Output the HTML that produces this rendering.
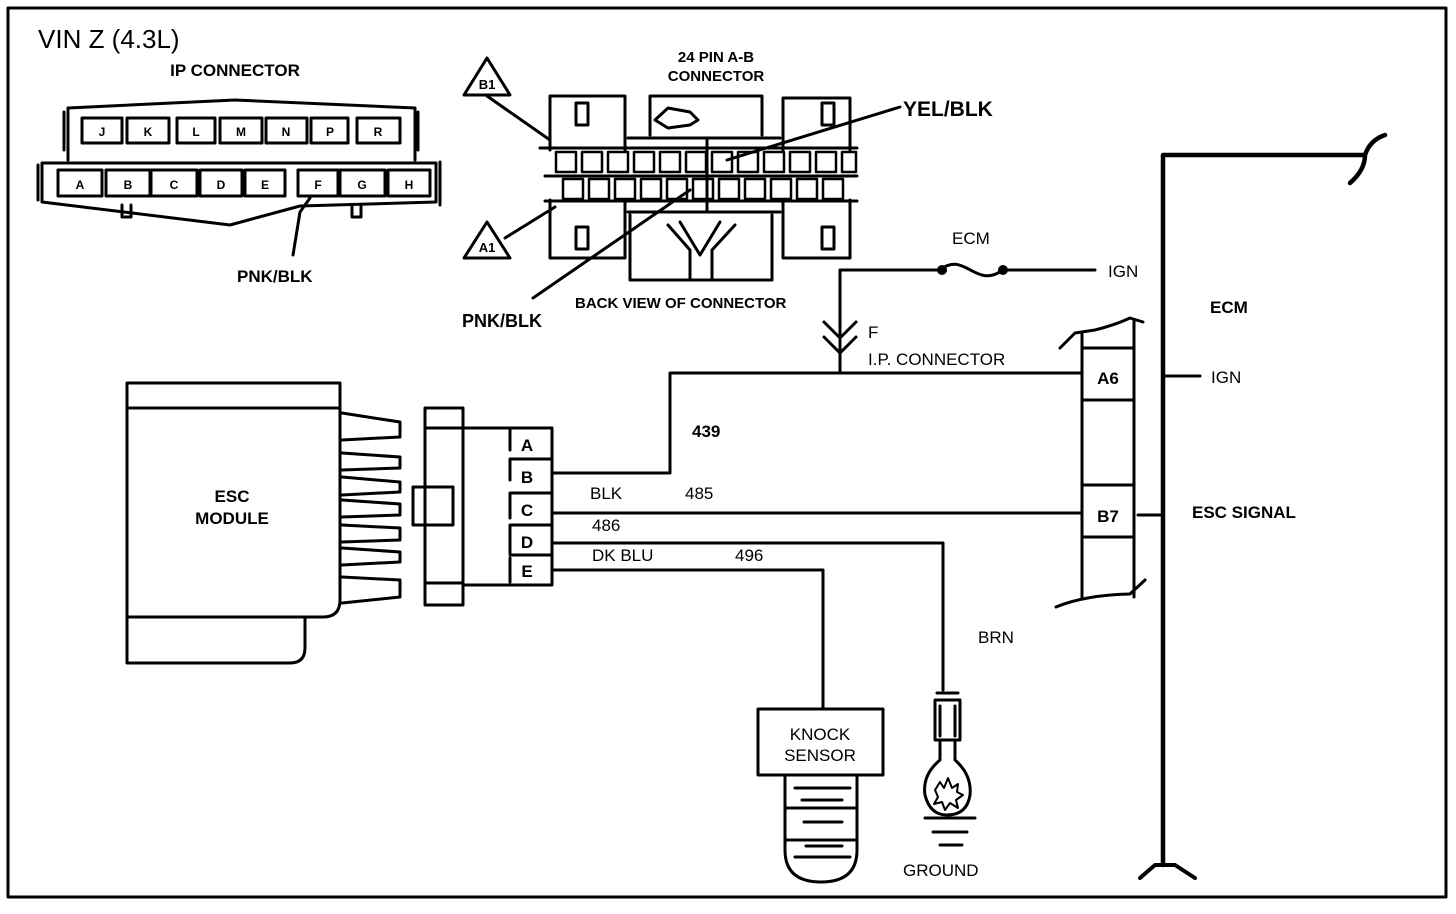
<!DOCTYPE html>
<html><head><meta charset="utf-8"><style>
html,body{margin:0;padding:0;background:#fff;width:1456px;height:914px;overflow:hidden}
svg{display:block}
text{font-family:"Liberation Sans",sans-serif;fill:#000}
.b{font-weight:bold}
</style></head><body>
<svg width="1456" height="914" viewBox="0 0 1456 914" xmlns="http://www.w3.org/2000/svg">
<g fill="none" stroke="#000" stroke-width="3" stroke-linecap="round" stroke-linejoin="round">
<path d="M8 8 H1446 V897 H8 Z"/>

<path d="M68 160 V108 L235 100 L415 108 V160"/>
<path d="M64 112 V150 M418 112 V150"/>
<rect x="82" y="118" width="40" height="25"/><rect x="127" y="118" width="42" height="25"/>
<rect x="177" y="118" width="38" height="25"/><rect x="220" y="118" width="42" height="25"/>
<rect x="266" y="118" width="41" height="25"/><rect x="311" y="118" width="37" height="25"/>
<rect x="357" y="118" width="43" height="25"/>
<path d="M38 165 L38 200 M440 162 V205 M42 163 H436 V202 L300 206 L230 225 L42 202 Z"/>
<rect x="58" y="170" width="44" height="26"/><rect x="106" y="170" width="44" height="26"/>
<rect x="151" y="170" width="46" height="26"/><rect x="200" y="170" width="42" height="26"/>
<rect x="245" y="170" width="40" height="26"/><rect x="298" y="170" width="40" height="26"/>
<rect x="340" y="170" width="45" height="26"/><rect x="388" y="170" width="42" height="26"/>
<path d="M122 205 V217 H131 V205 M352 205 V217 H361 V205"/>
<path d="M310 198 L300 212 L293 255"/>

<path d="M550 150 V96 H625 V150 M550 200 V258 H625 V200"/>
<path d="M650 135 V96 H762 V135"/>
<path d="M783 150 V98 H850 V150 M783 200 V258 H850 V200"/>
<rect x="576" y="103" width="12" height="22"/><rect x="822" y="103" width="12" height="22"/>
<rect x="576" y="227" width="12" height="22"/><rect x="822" y="227" width="12" height="22"/>
<path d="M655 120 L668 108 L690 112 L698 120 L690 125 L668 128 Z"/>
<path d="M540 148 H857 M545 176 H857 M545 201 H857 M628 138 H780 M628 212 H780 M707 138 V212"/>
<g stroke-width="2.5">
<rect x="556" y="152" width="20" height="20"/><rect x="582" y="152" width="20" height="20"/><rect x="608" y="152" width="20" height="20"/><rect x="634" y="152" width="20" height="20"/><rect x="660" y="152" width="20" height="20"/><rect x="686" y="152" width="20" height="20"/><rect x="712" y="152" width="20" height="20"/><rect x="738" y="152" width="20" height="20"/><rect x="764" y="152" width="20" height="20"/><rect x="790" y="152" width="20" height="20"/><rect x="816" y="152" width="20" height="20"/><rect x="842" y="152" width="14" height="20"/>
<rect x="563" y="179" width="20" height="20"/><rect x="589" y="179" width="20" height="20"/><rect x="615" y="179" width="20" height="20"/><rect x="641" y="179" width="20" height="20"/><rect x="667" y="179" width="20" height="20"/><rect x="693" y="179" width="20" height="20"/><rect x="719" y="179" width="20" height="20"/><rect x="745" y="179" width="20" height="20"/><rect x="771" y="179" width="20" height="20"/><rect x="797" y="179" width="20" height="20"/><rect x="823" y="179" width="20" height="20"/>
</g>
<path d="M630 215 V280 H772 V215 M668 225 L690 250 V280 M712 280 V250 L735 225 M680 222 L700 255 L720 222"/>
<path d="M464 95 L487 58 L510 95 Z M464 258 L487 222 L510 258 Z"/>
<path d="M487 96 L550 140 M505 238 L555 207 M900 107 L727 160 M533 298 L690 190"/>

<path d="M840 373 V270 H940 C965 250 975 290 1003 270 H1095"/>
<path d="M824 322 L840 338 L856 322 M824 337 L840 353 L856 337"/>
<path d="M670 373 H1082 M670 373 V473 H553"/>
<path d="M553 513 H1082 M553 543 H943 V690 M553 570 H823 V709"/>

<path d="M1060 348 L1075 333 L1095 330 Q1115 325 1130 318 L1143 322 M1082 333 V598 M1134 320 V597"/>
<path d="M1082 348 H1134 M1082 400 H1134 M1082 485 H1134 M1082 537 H1134"/>
<path d="M1056 607 Q1085 595 1130 594 L1145 580"/>
<path d="M1138 515 H1163 M1163 376 H1200"/>
<path d="M1163 155 V865 M1163 155 H1365 Q1370 140 1385 135 M1365 155 Q1365 170 1350 183" stroke-width="4.5"/>
<path d="M1140 878 L1155 865 H1175 L1195 878" stroke-width="4"/>

<path d="M127 383 H340 V600 Q340 617 323 617 H127 Z M127 408 H340"/>
<path d="M127 617 V663 H290 Q305 663 305 648 V617"/>
<path d="M342 413 L400 422 V437 L342 440 M342 453 L400 457 V468 L342 470 M342 477 L400 482 V492 L342 495 M342 500 L400 504 V515 L342 517 M342 525 L400 528 V540 L342 542 M342 548 L400 552 V562 L342 565 M342 577 L400 580 V597 L342 603"/>
<rect x="425" y="408" width="38" height="197"/>
<path d="M425 428 H463 M425 583 H463"/>
<rect x="413" y="487" width="40" height="38"/>
<path d="M463 428 H552 V585 H463 M510 430 V450 M510 460 V480 M510 493 V518 M510 525 V553 M510 558 V582 M510 459 H552 M510 493 H552 M510 525 H552 M510 555 H552"/>

<rect x="758" y="709" width="125" height="66"/>
<path d="M785 775 V850 Q785 882 821 882 Q857 882 857 850 V775 M785 808 H857 M785 840 H857 M795 788 H850 M802 800 H842 M804 822 H842 M806 846 H842 M795 857 H850"/>

<path d="M935 700 H960 V740 H935 Z M940 706 V736 M955 706 V736 M937 693 H958"/>
<path d="M940 742 V760 Q922 775 925 795 Q930 815 947 815 Q967 815 970 795 Q972 775 955 760 V742"/>
<path d="M935 790 L940 782 L944 788 L948 778 L952 788 L958 784 L957 792 L963 795 L956 800 L958 808 L950 803 L945 810 L942 802 L934 804 L938 797 Z" stroke-width="2"/>
<path d="M925 818 H975 M933 832 H967 M940 845 H962"/>
</g>
<circle cx="942" cy="270" r="5" fill="#000"/>
<circle cx="1003" cy="270" r="5" fill="#000"/>

<text x="38" y="48" font-size="26">VIN Z (4.3L)</text>
<text x="235" y="76" font-size="17" class="b" text-anchor="middle">IP CONNECTOR</text>
<g font-size="12" class="b" text-anchor="middle">
<text x="102" y="136">J</text><text x="148" y="136">K</text><text x="196" y="136">L</text><text x="241" y="136">M</text><text x="286" y="136">N</text><text x="330" y="136">P</text><text x="378" y="136">R</text>
<text x="80" y="189">A</text><text x="128" y="189">B</text><text x="174" y="189">C</text><text x="221" y="189">D</text><text x="265" y="189">E</text><text x="318" y="189">F</text><text x="362" y="189">G</text><text x="409" y="189">H</text>
</g>
<text x="237" y="282" font-size="17" class="b">PNK/BLK</text>
<text x="716" y="62" font-size="15" class="b" text-anchor="middle">24 PIN A-B</text>
<text x="716" y="81" font-size="15" class="b" text-anchor="middle">CONNECTOR</text>
<text x="487" y="89" font-size="13" class="b" text-anchor="middle">B1</text>
<text x="487" y="252" font-size="13" class="b" text-anchor="middle">A1</text>
<text x="903" y="116" font-size="21" class="b">YEL/BLK</text>
<text x="462" y="327" font-size="18" class="b">PNK/BLK</text>
<text x="575" y="308" font-size="15" class="b">BACK VIEW OF CONNECTOR</text>
<g font-size="17">
<text x="952" y="244">ECM</text>
<text x="1108" y="277">IGN</text>
<text x="868" y="338">F</text>
<text x="868" y="365">I.P. CONNECTOR</text>
<text x="1210" y="313" class="b">ECM</text>
<text x="1211" y="383">IGN</text>
<text x="1192" y="518" class="b">ESC SIGNAL</text>
<text x="1108" y="384" text-anchor="middle" class="b">A6</text>
<text x="1108" y="522" text-anchor="middle" class="b">B7</text>
<text x="692" y="437" class="b">439</text>
<text x="590" y="499">BLK</text>
<text x="685" y="499">485</text>
<text x="592" y="531">486</text>
<text x="592" y="561">DK BLU</text>
<text x="735" y="561">496</text>
<text x="978" y="643">BRN</text>
<text x="903" y="876">GROUND</text>
<text x="820" y="740" text-anchor="middle">KNOCK</text>
<text x="820" y="761" text-anchor="middle">SENSOR</text>
<text x="232" y="502" text-anchor="middle" class="b">ESC</text>
<text x="232" y="524" text-anchor="middle" class="b">MODULE</text>
<text x="527" y="451" text-anchor="middle" class="b">A</text>
<text x="527" y="483" text-anchor="middle" class="b">B</text>
<text x="527" y="516" text-anchor="middle" class="b">C</text>
<text x="527" y="548" text-anchor="middle" class="b">D</text>
<text x="527" y="577" text-anchor="middle" class="b">E</text>
</g>
</svg>
</body></html>
